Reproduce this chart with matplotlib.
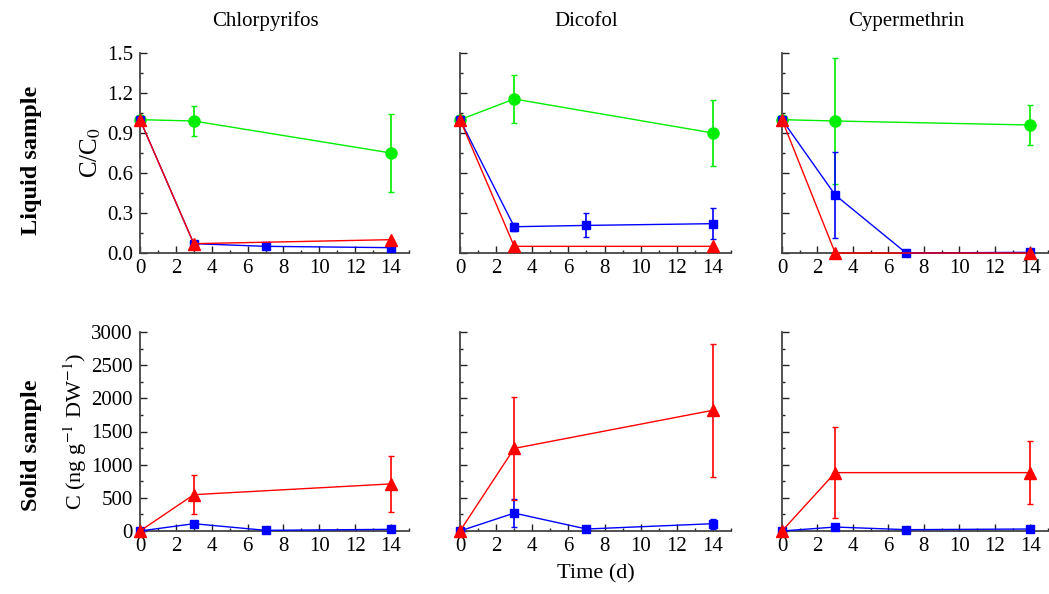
import numpy as np
import matplotlib
matplotlib.use("Agg")
import matplotlib.pyplot as plt
from matplotlib.ticker import MultipleLocator

plt.rcParams['font.family'] = ['Liberation Serif', 'DejaVu Serif']
plt.rcParams['mathtext.fontset'] = 'stix'

compounds = ["Chlorpyrifos", "Dicofol", "Cypermethrin"]

# liquid sample, C/C0  (green = circles, blue = squares, red = triangles)
liq_green_t = [0, 3, 14]
liq_green = [[1.0, 0.99, 0.75], [1.0, 1.155, 0.90], [1.0, 0.99, 0.96]]
liq_green_err = [[0.0, 0.11, 0.29], [0.0, 0.18, 0.25], [0.0, 0.47, 0.15]]

liq_blue_t = [0, 3, 7, 14]
liq_blue = [[1.0, 0.07, 0.05, 0.04], [1.0, 0.197, 0.207, 0.22], [1.0, 0.435, 0.0, 0.005]]
liq_blue_err = [[0.0, 0.0, 0.0, 0.0], [0.0, 0.03, 0.09, 0.115], [0.0, 0.32, 0.0, 0.0]]

liq_red_t = [0, 3, 14]
liq_red = [[1.0, 0.07, 0.10], [1.0, 0.05, 0.05], [1.0, 0.0, 0.0]]
liq_red_err = [[0.0, 0.0, 0.0], [0.0, 0.0, 0.0], [0.0, 0.0, 0.0]]

# solid sample, ng/g DW
sol_blue_t = [0, 3, 7, 14]
sol_blue = [[0, 110, 10, 25], [0, 270, 30, 110], [0, 60, 20, 30]]
sol_blue_err = [[0, 0, 0, 0], [0, 210, 0, 75], [0, 0, 0, 0]]

sol_red_t = [0, 3, 14]
sol_red = [[0, 548, 710], [0, 1245, 1820], [0, 880, 880]]
sol_red_err = [[0, 290, 425], [0, 780, 1005], [0, 690, 470]]

GREEN = "#00ee00"
BLUE = "#0000ff"
RED = "#ff0000"
SPINE = "#444444"

fig = plt.figure(figsize=(10.49, 5.94), dpi=100)

lefts = [140 / 1049, 460 / 1049, 782 / 1049]
widths = [269 / 1049, 271 / 1049, 266 / 1049]
top_b, top_h = 1 - 253 / 594, 200 / 594
bot_b, bot_h = 1 - 531 / 594, 199 / 594


def style_axis(ax, ymax, ymajor, yminor, show_ylabels):
    ax.set_xlim(0, 15)
    ax.set_ylim(0, ymax)
    for s in ["top", "right"]:
        ax.spines[s].set_visible(False)
    for s in ["left", "bottom"]:
        ax.spines[s].set_color(SPINE)
        ax.spines[s].set_linewidth(1.3)
    ax.xaxis.set_major_locator(MultipleLocator(2))
    ax.xaxis.set_minor_locator(MultipleLocator(1))
    ax.yaxis.set_major_locator(MultipleLocator(ymajor))
    ax.yaxis.set_minor_locator(MultipleLocator(yminor))
    ax.tick_params(which="both", direction="in", color="#222222", labelsize=15)
    ax.tick_params(axis="x", which="both", pad=4)
    ax.tick_params(axis="y", which="both", pad=5)
    ax.tick_params(which="major", length=5, width=1)
    ax.tick_params(which="minor", length=2.5, width=1)
    if not show_ylabels:
        ax.tick_params(axis="y", labelleft=False)


def series(ax, t, y, err, color, marker, ms):
    ax.errorbar(t, y, yerr=err, color=color, marker=marker, markersize=ms,
                linewidth=1, elinewidth=1.2, capsize=2, capthick=1,
                markeredgecolor=color, clip_on=False, zorder=3)


for i, name in enumerate(compounds):
    ax = fig.add_axes([lefts[i], top_b, widths[i], top_h])
    series(ax, liq_green_t, liq_green[i], liq_green_err[i], GREEN, "o", 8)
    series(ax, liq_blue_t, liq_blue[i], liq_blue_err[i], BLUE, "s", 6)
    series(ax, liq_red_t, liq_red[i], liq_red_err[i], RED, "^", 9)
    style_axis(ax, 1.5, 0.3, 0.15, i == 0)
    if i == 0:
        ax.yaxis.set_major_formatter(plt.FuncFormatter(lambda v, p: f"{v:.1f}"))
        ax.set_ylabel("C/C$_0$", fontsize=18, labelpad=3)
    # column title, baseline roughly 27 px above the top of the panel
    ax.text(7, 1.135, name, transform=ax.get_xaxis_transform(),
            ha="center", va="baseline", fontsize=15)

    ax = fig.add_axes([lefts[i], bot_b, widths[i], bot_h])
    series(ax, sol_blue_t, sol_blue[i], sol_blue_err[i], BLUE, "s", 6)
    series(ax, sol_red_t, sol_red[i], sol_red_err[i], RED, "^", 9)
    style_axis(ax, 3000, 500, 250, i == 0)
    if i == 0:
        ax.set_ylabel("C (ng g$^{-1}$ DW$^{-1}$)", fontsize=16, labelpad=2)
    if i == 1:
        ax.set_xlabel("Time (d)", fontsize=16, labelpad=6)

fig.text(32 / 1049, 1 - 160 / 594, "Liquid sample", rotation=90, ha="center",
         va="center", fontsize=17.5, fontweight="bold")
fig.text(32 / 1049, 1 - 445 / 594, "Solid sample", rotation=90, ha="center",
         va="center", fontsize=17.5, fontweight="bold")

fig.savefig("out.png", dpi=100)
